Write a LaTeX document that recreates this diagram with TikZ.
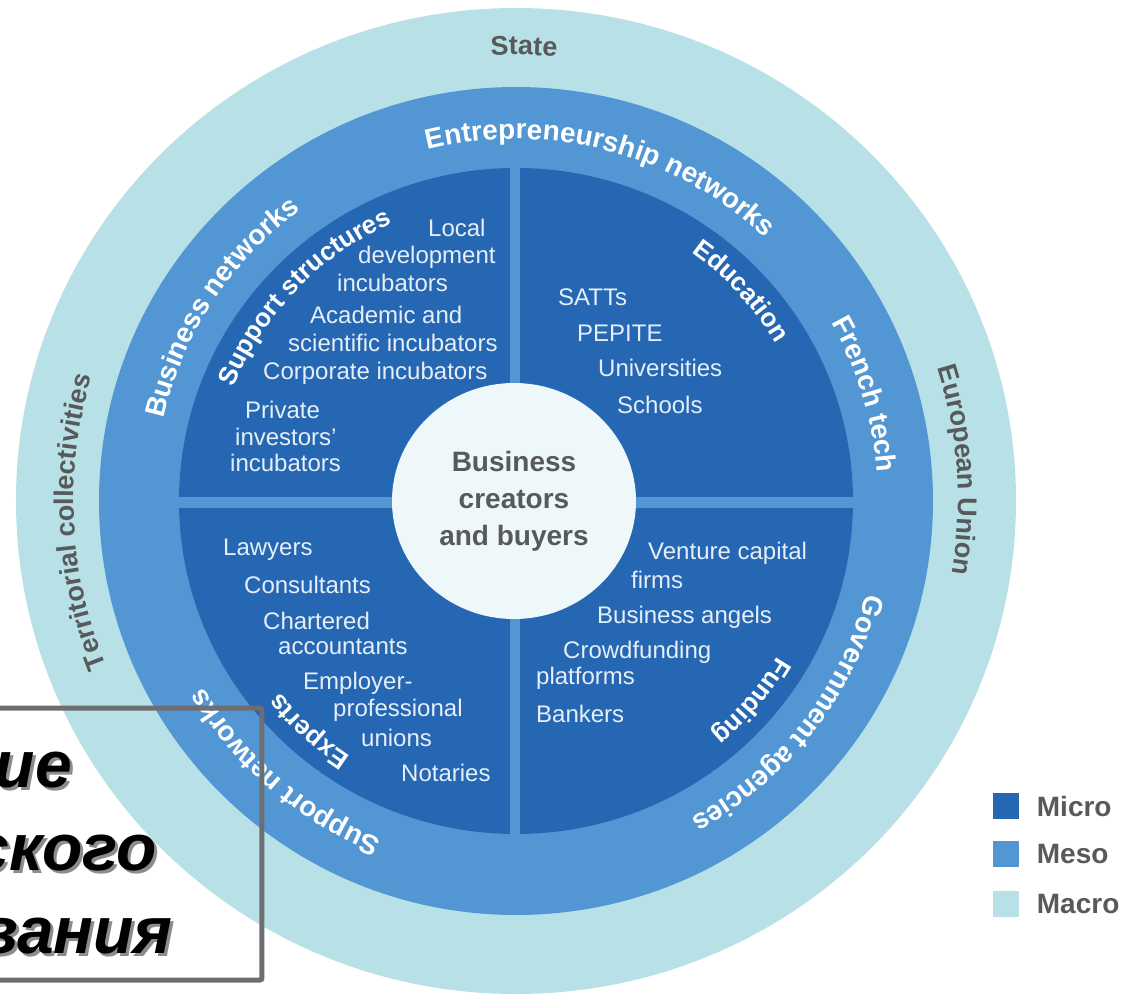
\documentclass[tikz,border=0pt]{standalone}
\usepackage{fontspec}
\setmainfont{Liberation Sans}
\usepackage{tikz}
\usetikzlibrary{decorations.text,shapes.geometric,positioning}
\definecolor{micro}{RGB}{37,103,178}
\definecolor{meso}{RGB}{82,151,211}
\definecolor{macro}{RGB}{183,225,231}
\definecolor{core}{RGB}{238,248,250}
\definecolor{ink}{RGB}{88,89,91}
\definecolor{pale}{RGB}{230,238,248}
\definecolor{boxgray}{RGB}{109,110,113}
\newcommand\macrofont{\fontsize{27}{27}\selectfont\bfseries}
\newcommand\mesofont{\fontsize{28}{28}\selectfont\bfseries}
\newcommand\microfont{\fontsize{26}{26}\selectfont\bfseries}

\begin{document}
\begin{tikzpicture}[x=1pt,y=1pt,
        item/.style={anchor=west,inner sep=0pt,text=pale,font=\fontsize{24}{24}\selectfont},
        ringlab/.style={decorate,decoration={text along path,text align=center,text color=#1}},
        key/.style={minimum size=26pt,inner sep=0pt,fill=#1},
        keylab/.style={inner sep=0pt,text=ink,font=\fontsize{28}{28}\selectfont\bfseries},
        big/.style={anchor=base east,inner sep=0pt,font=\fontsize{66}{66}\selectfont\bfseries\itshape},
        shade/.style={big,text=black!45}]
  \useasboundingbox (-516,-493) rectangle (610,501);
  \clip (-516,-493) rectangle (610,501);
  \fill [macro] (0,0) ellipse [x radius=500, y radius=493];
  \fill [meso]  (0,0) ellipse [x radius=417, y radius=414];
  \fill [micro] (0,0) ellipse [x radius=337, y radius=333];
  \fill [meso] (-6,-340) rectangle (4,340);
  \fill [meso] (-340,-7) rectangle (340,4);
  \node [ellipse,fill=core,minimum width=244pt,minimum height=236pt,inner sep=0pt,align=center,
         text=ink,font=\fontsize{28}{37}\selectfont\bfseries] (c) at (-2,0) {Business\\creators\\and buyers};

  \path [ringlab=ink,   decoration={text={|\macrofont|State}}]                      (159:446) arc [start angle=159, end angle=19, radius=446];
  \path [ringlab=ink,   decoration={text={|\macrofont|European Union}}]             (74:442) arc [start angle=74, end angle=-66, radius=442];
  \path [ringlab=ink,   decoration={text={|\macrofont|Territorial collectivities}}] (252.8:442) arc [start angle=252.8, end angle=112.8, radius=442];
  \path [ringlab=white, decoration={text={|\mesofont|Entrepreneurship networks}}]   (145.3:362) arc [start angle=145.3, end angle=5.3, radius=362];
  \path [ringlab=white, decoration={text={|\mesofont|Business networks}}]           (216.7:362) arc [start angle=216.7, end angle=76.7, radius=362];
  \path [ringlab=white, decoration={text={|\mesofont|French tech}}]                 (87:362) arc [start angle=87, end angle=-53, radius=362];
  \path [ringlab=white, decoration={text={|\mesofont|Government agencies}}]         (32:362) arc [start angle=32, end angle=-108, radius=362];
  \path [ringlab=white, decoration={text={|\mesofont|Support networks}}]            (299.6:364) arc [start angle=299.6, end angle=159.6, radius=364];
  \path [ringlab=white, decoration={text={|\microfont|Support structures}}]         (206:304) arc [start angle=206, end angle=66, radius=304];
  \path [ringlab=white, decoration={text={|\microfont|Education}}]                  (113:304) arc [start angle=113, end angle=-27, radius=304];
  \path [ringlab=white, decoration={text={|\microfont|Funding}}]                    (29.7:304) arc [start angle=29.7, end angle=-110.3, radius=304];
  \path [ringlab=white, decoration={text={|\microfont|Experts}}]                    (298:304) arc [start angle=298, end angle=158, radius=304];

  \node [item] (a1) at (-88,273)  {Local};
  \node [item] (a2) at (-158,244) {development};
  \node [item] (a3) at (-179,218) {incubators};
  \node [item] (a4) at (-206,186) {Academic and};
  \node [item] (a5) at (-228,158) {scientific incubators};
  \node [item] (a6) at (-253,128) {Corporate incubators};
  \node [item] (a7) at (-271,91)  {Private};
  \node [item] (a8) at (-281,64)  {investors’};
  \node [item] (a9) at (-286,38)  {incubators};

  \node [item] (b1) at (42,204)  {SATTs};
  \node [item] (b2) at (61,168)  {PEPITE};
  \node [item] (b3) at (82,133)  {Universities};
  \node [item] (b4) at (101,96)  {Schools};

  \node [item] (d1) at (-293,-49)  {Lawyers};
  \node [item] (d2) at (-272,-84)  {Consultants};
  \node [item] (d3) at (-253,-120) {Chartered};
  \node [item] (d4) at (-238,-146) {accountants};
  \node [item] (d5) at (-213,-182) {Employer-};
  \node [item] (d6) at (-183,-209) {professional};
  \node [item] (d7) at (-155,-237) {unions};
  \node [item] (d8) at (-115,-272) {Notaries};

  \node [item] (e1) at (132,-52)  {Venture capital};
  \node [item] (e2) at (115,-79)  {firms};
  \node [item] (e3) at (81,-116)  {Business angels};
  \node [item] (e4) at (47,-151)  {Crowdfunding};
  \node [item] (e5) at (20,-177)  {platforms};
  \node [item] (e6) at (20,-213)  {Bankers};

  \node [key=micro] (k1) at (489.5,-305) {};
  \node [key=meso]  (k2) at (489.5,-353) {};
  \node [key=macro] (k3) at (489.5,-403) {};
  \node [keylab, right=18pt of k1] (m1) {Micro};
  \node [keylab, right=18pt of k2] (m2) {Meso};
  \node [keylab, right=18pt of k3] (m3) {Macro};

  \draw [boxgray, line width=5pt, rounded corners=2pt] (-530,-207) rectangle (-254,-479);
  \node [shade] (h1) at (-441,-289) {ие};
  \node [shade] (h2) at (-356,-372) {ского};
  \node [shade] (h3) at (-340,-455) {вания};
  \node [big]   (t1) at (-444,-286) {ие};
  \node [big]   (t2) at (-359,-369) {ского};
  \node [big]   (t3) at (-343,-452) {вания};
\end{tikzpicture}
\end{document}
